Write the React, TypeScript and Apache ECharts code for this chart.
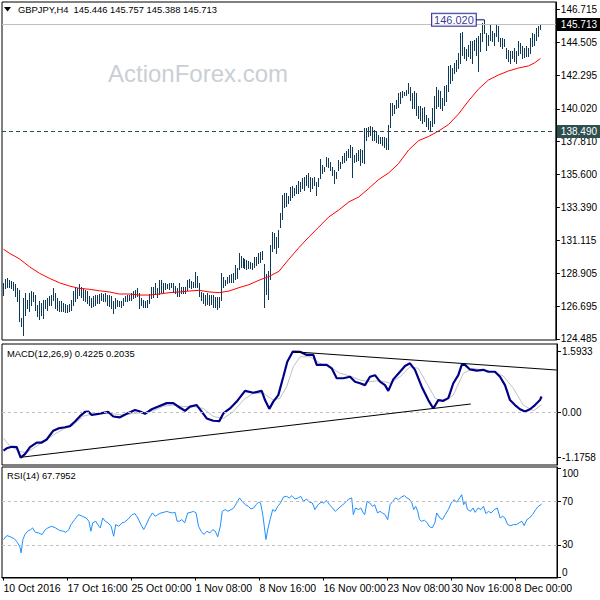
import React, { useEffect, useRef } from "react";
import * as echarts from "echarts";

// ---------- data ----------
const symbolTitle = "GBPJPY,H4";
const lastBarOHLC = [145.446, 145.757, 145.388, 145.713];

const highs = [
  128.26, 128.55, 128.6, 128.48, 128.42, 128.33, 128.19, 127.92, 127.81, 125.9,
  127.25, 127.58, 127.13, 127.58, 127.7, 127.65, 127.47, 126.8, 127.02, 126.91,
  127.13, 127.13, 127.25, 127.36, 127.47, 127.92, 127.58, 127.25, 127.02, 127.02,
  126.91, 126.84, 126.8, 126.84, 127.13, 127.7, 127.92, 127.92, 128.19, 127.97,
  127.92, 127.81, 127.7, 127.36, 127.25, 127.36, 127.47, 127.47, 127.51, 127.58,
  127.51, 127.58, 127.47, 127.47, 127.36, 127.02, 127.25, 127.13, 127.07, 127.02,
  127.25, 127.36, 127.43, 127.47, 127.58, 127.7, 127.81, 127.92, 127.58, 127.23,
  127.12, 127.07, 127.12, 127.52, 128.02, 128.02, 128.24, 127.9, 128.47, 128.47,
  128.24, 128.24, 128.2, 128.24, 128.29, 128.24, 128.06, 127.9, 128.24, 127.97,
  127.97, 128.02, 128.47, 128.51, 128.42, 128.35, 129.03, 128.74, 128.24, 127.68,
  127.57, 127.45, 127.57, 127.45, 127.45, 127.45, 127.34, 127.34, 127.34, 128.92,
  128.65, 128.47, 128.69, 128.8, 128.87, 128.92, 129.48, 129.25, 130.26, 130.09,
  129.93, 129.86, 129.82, 129.77, 129.7, 129.59, 130.04, 130.04, 130.26, 130.38,
  130.45, 129.55, 128.9, 129.1, 130.8, 131.73, 131.62, 131.35, 131.84, 132.99,
  134.2, 134.31, 134.31, 134.13, 134.76, 134.81, 134.65, 134.87, 135.16, 135.1,
  135.32, 135.43, 135.55, 135.66, 135.43, 135.32, 135.43, 135.1, 135.32, 136.6,
  136.22, 136.11, 136.79, 136.67, 136.45, 136.11, 135.89, 135.77, 136.56, 136.45,
  136.83, 137.01, 137.19, 137.28, 137.57, 137.41, 136.9, 137.06, 137.24, 137.28,
  137.24, 138.7, 138.7, 138.81, 138.86, 138.81, 138.59, 138.47, 138.25, 138.13,
  138.09, 138.09, 138.02, 138.92, 140.43, 140.39, 140.27, 140.61, 141.06, 141.17,
  141.24, 141.17, 141.29, 141.74, 141.47, 141.11, 141.2, 141.08, 140.18, 140.18,
  140.07, 140.12, 139.62, 139.4, 139.17, 140.07, 140.86, 141.47, 141.31, 141.2,
  140.75, 141.53, 141.65, 142.88, 142.95, 142.77, 143.11, 143.33, 143.78, 145.13,
  145.2, 144.17, 144.07, 144.35, 144.62, 144.57, 144.68, 144.8, 144.91, 145.13,
  145.81, 146.02, 145.13, 145.02, 145.7, 145.25, 145.13, 145.7, 145.58, 144.8,
  144.8, 144.75, 144.12, 144.01, 143.94, 143.9, 144.12, 143.9, 144.57, 144.46,
  144.23, 144.12, 144.23, 144.12, 144.8, 145.13, 145.07, 145.47, 145.58, 145.757,
];

const lows = [
  127.47, 127.92, 127.96, 127.96, 127.92, 127.81, 127.36, 127.02, 125.67, 125.33,
  124.77, 126.12, 126.57, 126.35, 126.8, 127.02, 126.46, 126.01, 125.85, 126.12,
  125.9, 126.57, 126.46, 126.75, 126.8, 127.13, 126.57, 126.46, 126.35, 126.35,
  126.35, 126.3, 126.3, 126.35, 126.46, 126.8, 127.02, 127.25, 127.47, 127.29,
  127.13, 127.02, 126.91, 126.8, 126.62, 126.68, 126.8, 126.91, 126.91, 127.13,
  127.02, 127.02, 126.8, 126.68, 126.57, 126.23, 126.57, 126.68, 126.68, 126.62,
  126.8, 127.02, 127.02, 127.13, 127.13, 127.25, 127.29, 127.36, 126.57, 126.78,
  126.67, 126.62, 126.67, 126.94, 127.23, 127.34, 127.52, 127.34, 127.52, 127.68,
  127.68, 127.83, 127.9, 127.83, 127.97, 127.68, 127.57, 127.38, 127.38, 127.57,
  127.57, 127.57, 127.79, 127.97, 127.9, 128.02, 127.97, 127.97, 127.38, 127.12,
  126.89, 126.78, 126.85, 126.78, 126.85, 126.67, 126.67, 126.49, 126.67, 127.12,
  128.02, 128.13, 128.24, 128.35, 128.35, 128.35, 128.51, 128.58, 129.19, 129.37,
  129.32, 129.25, 129.19, 129.25, 129.25, 129.19, 129.37, 129.48, 129.59, 129.7,
  129.86, 126.66, 127.5, 127.2, 128.5, 130.4, 130.6, 130.28, 130.71, 132.04,
  132.55, 133.41, 133.46, 133.64, 133.86, 134.04, 134.2, 134.31, 134.31, 134.49,
  134.65, 134.54, 134.87, 134.76, 134.49, 134.65, 134.87, 134.2, 134.8, 135.32,
  135.66, 135.84, 136.16, 136.11, 135.89, 135.55, 134.99, 135.32, 135.89, 136.0,
  136.34, 136.45, 136.56, 136.79, 136.79, 135.39, 136.45, 136.52, 136.56, 136.22,
  136.45, 136.34, 137.91, 138.18, 138.25, 137.91, 137.91, 137.8, 137.69, 137.69,
  137.57, 137.42, 137.28, 137.28, 138.81, 139.6, 139.71, 140.05, 140.16, 140.39,
  140.84, 140.95, 140.95, 141.06, 140.61, 140.05, 140.07, 139.62, 139.4, 139.28,
  139.06, 139.17, 138.83, 138.67, 138.61, 138.83, 139.06, 140.07, 140.18, 140.07,
  139.96, 140.3, 140.52, 141.2, 141.76, 141.98, 142.43, 142.55, 142.77, 143.11,
  143.67, 143.45, 143.33, 143.56, 143.45, 143.11, 144.01, 143.67, 142.55, 143.9,
  144.57, 145.13, 144.01, 144.35, 144.68, 144.57, 144.35, 144.91, 144.57, 144.23,
  144.12, 144.23, 143.45, 143.22, 143.11, 143.45, 143.22, 143.11, 143.67, 143.78,
  143.45, 143.49, 143.56, 143.56, 143.78, 144.23, 144.35, 144.68, 144.91, 145.388,
];

// moving average (red), [bar index, value]
const maPoints = [
  [0, 130.54], [3, 130.27], [8, 129.89], [13, 129.36], [18, 128.92], [23, 128.58],
  [28, 128.28], [33, 128.06], [38, 127.9], [43, 127.84], [48, 127.74], [53, 127.66],
  [58, 127.52], [63, 127.52], [68, 127.45], [73, 127.45], [78, 127.52], [83, 127.61],
  [88, 127.66], [93, 127.72], [98, 127.77], [103, 127.66], [108, 127.61], [113, 127.72],
  [118, 127.95], [123, 128.15], [128, 128.45], [133, 128.7], [138, 129.05], [143, 129.87],
  [148, 130.65], [153, 131.37], [158, 132.04], [163, 132.72], [168, 133.19], [173, 133.73],
  [178, 134.07], [183, 134.64], [188, 135.25], [193, 135.69], [198, 136.33], [203, 137.24],
  [208, 137.87], [213, 138.15], [218, 138.52], [223, 138.96], [228, 139.67], [233, 140.55],
  [238, 141.35], [243, 141.96], [248, 142.3], [253, 142.57], [258, 142.77], [263, 142.91],
  [266, 143.11], [269, 143.41],
];

const lastClose = 145.713;
const levelLine = 138.49;
const swingHigh = 146.02;
const swingHighBar = 241;

const priceTicks = [124.485, 126.695, 128.905, 131.115, 133.39, 135.6, 137.81, 140.02, 142.295, 144.505, 146.715];

// MACD(12,26,9)
const macdLabel = [0.4225, 0.2035];
const macdPoints = [
  [0, -0.99], [1.6, -0.93], [4.1, -0.89], [6.6, -0.9], [8.6, -1.1758], [10.75, -1.08],
  [13.25, -0.9], [16.6, -0.78], [19.1, -0.78], [21.6, -0.7], [24.9, -0.47], [27.4, -0.41],
  [30.75, -0.38], [33.25, -0.35], [35.75, -0.23], [38.25, -0.09], [40.75, 0.02], [42.4, 0.03],
  [44.1, -0.06], [47.4, -0.03], [52.4, 0.02], [54.9, -0.1], [58.25, -0.12], [61.6, -0.03],
  [65.75, 0.07], [68.25, 0.03], [70.75, -0.03], [74.1, 0.09], [77.4, 0.16], [81.6, 0.25],
  [84.9, 0.25], [88.25, 0.13], [90.75, 0.05], [93.25, 0.16], [96.6, 0.2], [99.1, 0.03],
  [101.6, -0.15], [104.9, -0.21], [107.9, -0.22], [109.9, -0.02], [113.25, 0.11], [116.6, 0.29],
  [120.75, 0.57], [124.9, 0.52], [129.1, 0.57], [130.75, 0.33], [132.9, 0.1], [134.9, 0.29],
  [137.4, 0.46], [139.9, 0.94], [141.9, 1.33], [144.6, 1.5933], [148.25, 1.59], [151.6, 1.51],
  [154.9, 1.51], [156.6, 1.25], [161.6, 1.25], [164.1, 1.16], [166.6, 0.9], [169.9, 0.9],
  [173.25, 0.94], [175.75, 0.81], [178.25, 0.77], [180.75, 0.72], [183.25, 0.94], [185.75, 0.98],
  [188.25, 0.81], [190.75, 0.72], [192.4, 0.57], [194.9, 0.87], [198.25, 1.07], [200.75, 1.22],
  [203.25, 1.29], [205.75, 1.12], [209.1, 0.68], [212.4, 0.33], [214.9, 0.11], [217.4, 0.33],
  [219.9, 0.31], [222.4, 0.38], [224.9, 0.77], [227.4, 0.98], [229.1, 1.25], [230.75, 1.25],
  [233.25, 1.13], [236.6, 1.1], [239.9, 1.12], [242.4, 1.07], [245.75, 1.07], [248.25, 0.94],
  [250.75, 0.72], [253.25, 0.33], [255.75, 0.2], [258.25, 0.09], [260.75, 0.03], [263.25, 0.09],
  [265.75, 0.2], [268.25, 0.33], [269, 0.4225],
];
const signalPoints = [
  [0, -0.67], [3.25, -0.87], [8.25, -1.02], [11.6, -1.04], [14.9, -0.93], [19.9, -0.76],
  [24.9, -0.58], [29.9, -0.43], [34.9, -0.32], [39.9, -0.09], [44.9, -0.03], [49.9, -0.02],
  [54.9, -0.03], [59.9, -0.06], [64.9, -0.02], [69.9, 0.0], [74.9, 0.05], [79.9, 0.17],
  [84.9, 0.2], [89.9, 0.16], [94.9, 0.16], [99.9, 0.11], [104.9, -0.1], [109.9, -0.15],
  [114.9, 0.03], [119.9, 0.33], [124.9, 0.51], [129.9, 0.51], [134.9, 0.33], [138.25, 0.38],
  [141.6, 0.68], [144.9, 1.2], [148.25, 1.46], [153.25, 1.46], [158.25, 1.29], [163.25, 1.2],
  [168.25, 1.03], [173.25, 0.96], [178.25, 0.85], [183.25, 0.81], [188.25, 0.84], [193.25, 0.77],
  [198.25, 0.94], [203.25, 1.2], [207.4, 1.16], [211.6, 0.77], [215.75, 0.38], [219.9, 0.29],
  [224.9, 0.46], [229.9, 1.03], [234.9, 1.16], [239.9, 1.1], [244.9, 1.07], [249.9, 0.96],
  [254.9, 0.64], [259.9, 0.2], [264.9, 0.05], [269, 0.2035],
];
const macdSupport = [[8.6, -1.165], [233.6, 0.227]];
const macdResistance = [[144.75, 1.5933], [276.6, 1.115]];
const macdTicks = [-1.1758, 0, 1.5933];

// RSI(14)
const rsiLast = 67.7952;
const rsiPoints = [
  [0, 34.9], [1.7, 38.6], [3.6, 37.3], [5.5, 35.5], [6.9, 32.4], [8.2, 28.2], [8.8, 22.7], [9.7, 34.9],
  [10.7, 39.5], [12, 42.5], [13.6, 44], [14.5, 45.6], [15.9, 41.6], [17.4, 41], [19.3, 39.5], [20.9, 44],
  [22.2, 45.6], [24.1, 47.1], [26, 45.6], [27.9, 43.4], [29.9, 42.5], [31.2, 41.6], [32.7, 44], [33.7, 48.6],
  [35.6, 53.2], [37.5, 57.8], [39.4, 56.3], [41.3, 54.7], [42.7, 51.7], [43.7, 42.5], [44.6, 50.2], [46.1, 51.7],
  [47.7, 47.1], [48.4, 45.6], [49.6, 54.7], [50.9, 51.7], [52.3, 50.2], [53.8, 47.1], [55.1, 37.9], [56.1, 48.6],
  [57.6, 47.1], [59.2, 50.2], [60.5, 50.8], [62.4, 53.8], [64.3, 57.8], [65.7, 58.7], [67.2, 54.7], [68.7, 48.6],
  [70.1, 44], [71, 47.1], [72.9, 54.7], [74.5, 59.3], [75.8, 56.3], [77.2, 57.8], [78.7, 59.3], [80.2, 59.9],
  [81.6, 60.8], [82.9, 59.9], [84.5, 59.3], [85.8, 59.9], [86.8, 51.7], [87.9, 51.7], [89.2, 53.2], [90.6, 50.2],
  [92.1, 59.3], [93.7, 59.9], [95, 60.8], [96.3, 59.3], [97.5, 47.1], [98.8, 42.5], [100.2, 39.5], [101.7, 42.5],
  [103.2, 41], [104.6, 44], [105.9, 42.5], [107.1, 37.3], [108.4, 47.1], [109.4, 60.8], [110.9, 62.4], [112.2, 60.8],
  [113.8, 62.4], [115.1, 63.9], [116.6, 68.5], [118, 73.1], [119.3, 70], [120.9, 66.9], [122.4, 65.4], [123.7, 63],
  [125.1, 63.9], [126.2, 66.9], [127.6, 69.1], [128.5, 68.5], [129.5, 59.3], [130.4, 47.1], [131.2, 34.9], [132.3, 45.6],
  [133.3, 53.2], [134.6, 62.4], [135.8, 60.8], [137.1, 65.4], [138.5, 68.5], [140, 74], [141.5, 74.6], [142.9, 73.1],
  [144.2, 75.2], [145.8, 72.1], [147.3, 73.1], [148.6, 74.6], [150, 70], [151.5, 72.1], [153, 69.1], [154.4, 68.5],
  [155.7, 62.4], [157.3, 66.9], [158.8, 69.1], [160.1, 68.5], [161.5, 70.9], [163, 66.9], [164.5, 63.9], [165.9, 60.8],
  [167.2, 63], [168.7, 65.4], [170.3, 67.9], [171.6, 70], [172.6, 72.1], [174.1, 73.1], [174.9, 57.8], [176, 63.9],
  [177.4, 62.4], [178.7, 63.9], [179.9, 59.3], [180.6, 57.8], [181.8, 70], [183.1, 68.5], [184.5, 65.4], [185.6, 66.9],
  [187, 59.3], [188.3, 60.8], [189.4, 59.3], [190.8, 57.8], [192.1, 53.2], [193.3, 66.9], [194.6, 70], [196, 73.1],
  [197.5, 71.5], [199, 74], [200.4, 75.2], [201.7, 73.1], [202.8, 72.1], [204.2, 68.5], [205.1, 62.4], [206.1, 65.4],
  [207.1, 60.8], [208, 53.2], [209, 51.7], [210.5, 52.6], [211.9, 50.2], [212.8, 47.1], [214.3, 45.6], [215.7, 50.2],
  [216.6, 59.3], [218.2, 54.7], [219.5, 53.2], [220.9, 57.8], [222.4, 62.4], [223.9, 68.5], [225.3, 71.5], [226.6, 69.1],
  [228.1, 73.1], [229.1, 76.1], [230.1, 66.9], [231, 70], [232, 62.4], [233.5, 60.8], [234.8, 63.9], [235.8, 59.9],
  [237.3, 63.9], [238.7, 62.4], [240, 65.4], [241.2, 58.7], [242.5, 60.8], [243.8, 59.3], [245.4, 62.4], [246.9, 63.9],
  [248.3, 54.7], [249.6, 56.3], [250.7, 54.7], [252.1, 48.6], [253.4, 47.7], [255, 48.6], [256.5, 48.6], [257.8, 50.2],
  [259.2, 51.7], [260.3, 47.7], [261.7, 53.2], [263, 54.7], [264.5, 57.8], [266.1, 62.4], [267.4, 65.4], [268.7, 66.9],
  [269, 67.8],
];
const rsiLevels = [70, 30];
const rsiTicks = [0, 30, 70, 100];

// time axis
const timeTickBars = [0, 32, 64, 96, 128, 160, 192, 224, 256];
const timeLabels = [
  "10 Oct 2016", "17 Oct 16:00", "25 Oct 00:00", "1 Nov 08:00", "8 Nov 16:00",
  "16 Nov 00:00", "23 Nov 08:00", "30 Nov 16:00", "8 Dec 00:00",
];

// ---------- styling ----------
const FONT = "Liberation Sans, Arial, sans-serif";
const BAR_COLOR = "#0f3a57";
const X_MIN = -0.75;
const X_MAX = 276.75;
const LABEL_GAP_BARS = 4.1;

export default function App() {
  const ref = useRef<HTMLDivElement>(null);

  useEffect(() => {
    if (!ref.current) return;
    const chart = echarts.init(ref.current, null, { renderer: "svg" });

    const grids = [
      { left: 2, top: 2, width: 555, height: 338 },
      { left: 2, top: 344, width: 555, height: 121 },
      { left: 2, top: 467, width: 555, height: 111 },
    ].map((g) => ({ ...g, show: true, borderColor: "#000", borderWidth: 1, backgroundColor: "transparent" }));

    const xAxes = [0, 1, 2].map((g) => ({
      type: "value",
      gridIndex: g,
      min: X_MIN,
      max: X_MAX,
      splitLine: { show: false },
      axisLine: { show: g === 2, lineStyle: { color: "#000", width: 1 } },
      axisTick:
        g === 2
          ? { show: true, customValues: timeTickBars, length: 3, lineStyle: { color: "#000" } }
          : { show: false },
      axisLabel:
        g === 2
          ? {
              show: true,
              customValues: timeTickBars,
              formatter: (v: number) => timeLabels[timeTickBars.indexOf(Math.round(v))] ?? "",
              align: "left",
              color: "#000",
              fontSize: 10.5,
              fontFamily: FONT,
              margin: 4,
            }
          : { show: false },
    }));

    const yCommon = {
      type: "value",
      position: "right",
      splitLine: { show: false },
      axisLine: { show: true, onZero: false, lineStyle: { color: "#000", width: 1 } },
    };

    const yAxes = [
      {
        ...yCommon,
        gridIndex: 0,
        min: 124.417,
        max: 147.224,
        axisTick: { show: true, customValues: priceTicks, length: 4, lineStyle: { color: "#000" } },
        axisLabel: {
          customValues: priceTicks,
          formatter: (v: number) => v.toFixed(3),
          color: "#000",
          fontSize: 10,
          fontFamily: FONT,
          margin: 5,
        },
      },
      {
        ...yCommon,
        gridIndex: 1,
        min: -1.3662,
        max: 1.7947,
        axisTick: { show: true, customValues: macdTicks, length: 4, lineStyle: { color: "#000" } },
        axisLabel: {
          customValues: macdTicks,
          formatter: (v: number) => (v === 0 ? "0.00" : v.toFixed(4)),
          color: "#000",
          fontSize: 10,
          fontFamily: FONT,
          margin: 5,
        },
      },
      {
        ...yCommon,
        gridIndex: 2,
        min: -0.4,
        max: 101.5,
        axisTick: { show: true, customValues: rsiTicks, length: 4, lineStyle: { color: "#000" } },
        axisLabel: {
          customValues: rsiTicks,
          formatter: (v: number) => String(v),
          color: "#000",
          fontSize: 10,
          fontFamily: FONT,
          margin: 5,
          verticalAlignMaxLabel: "top",
          verticalAlignMinLabel: "bottom",
        },
      },
    ];

    const barData = highs.map((h, i) => [i, h, lows[i]]);

    const option: any = {
      animation: false,
      backgroundColor: "#fff",
      textStyle: { fontFamily: FONT },
      grid: grids,
      xAxis: xAxes,
      yAxis: yAxes,
      graphic: [
        {
          type: "text",
          z: 1,
          left: 108,
          top: 61,
          style: { text: "ActionForex.com", fill: "#c9cfd5", font: `24px ${FONT}` },
        },
        { type: "polygon", shape: { points: [[4, 7], [11, 7], [7.5, 11.5]] }, style: { fill: "#000" } },
        {
          type: "text",
          left: 18,
          top: 5,
          style: {
            text: `${symbolTitle}  ${lastBarOHLC.map((v) => v.toFixed(3)).join(" ")}`,
            fill: "#000",
            font: `9.4px ${FONT}`,
          },
        },
        {
          type: "text",
          left: 7,
          top: 349,
          style: {
            text: `MACD(12,26,9) ${macdLabel[0].toFixed(4)} ${macdLabel[1].toFixed(4)}`,
            fill: "#000",
            font: `9.4px ${FONT}`,
          },
        },
        {
          type: "text",
          left: 7,
          top: 471,
          style: { text: `RSI(14) ${rsiLast.toFixed(4)}`, fill: "#000", font: `9.4px ${FONT}` },
        },
      ],
      series: [
        {
          name: "levels",
          type: "line",
          xAxisIndex: 0,
          yAxisIndex: 0,
          data: [],
          silent: true,
          z: 2,
          markLine: {
            symbol: "none",
            silent: true,
            animation: false,
            data: [
              {
                yAxis: lastClose,
                lineStyle: { color: "#c0c0c0", type: "solid", width: 1 },
                label: {
                  show: true,
                  position: "end",
                  distance: 1,
                  formatter: lastClose.toFixed(3),
                  color: "#fff",
                  backgroundColor: "#000",
                  padding: [2, 4, 1, 4],
                  fontSize: 10,
                  fontFamily: FONT,
                },
              },
              {
                yAxis: levelLine,
                lineStyle: { color: "#2f4f4f", type: [4, 3], width: 1 },
                label: {
                  show: true,
                  position: "end",
                  distance: 1,
                  formatter: levelLine.toFixed(3),
                  color: "#fff",
                  backgroundColor: "#2f4f4f",
                  padding: [2, 4, 1, 4],
                  fontSize: 10,
                  fontFamily: FONT,
                },
              },
            ],
          },
        },
        {
          name: "bars",
          type: "custom",
          xAxisIndex: 0,
          yAxisIndex: 0,
          z: 3,
          encode: { x: 0, y: [1, 2] },
          data: barData,
          renderItem: (_p: any, api: any) => {
            const x = api.value(0);
            const top = api.coord([x, api.value(1)]);
            const bot = api.coord([x, api.value(2)]);
            const px = Math.round(top[0] - 0.5) + 0.5;
            return {
              type: "line",
              shape: { x1: px, y1: Math.round(top[1]), x2: px, y2: Math.round(bot[1]) + 1 },
              style: { stroke: BAR_COLOR, lineWidth: 1 },
            };
          },
        },
        {
          name: "MA",
          type: "line",
          xAxisIndex: 0,
          yAxisIndex: 0,
          z: 4,
          data: maPoints,
          showSymbol: false,
          symbol: "none",
          lineStyle: { color: "#ff0000", width: 1 },
        },
        {
          name: "highConnector",
          type: "line",
          xAxisIndex: 0,
          yAxisIndex: 0,
          z: 5,
          data: [
            [swingHighBar - LABEL_GAP_BARS, swingHigh],
            [swingHighBar, swingHigh],
          ],
          symbol: "none",
          lineStyle: { color: "#000080", width: 1 },
        },
        {
          name: "highLabel",
          type: "scatter",
          xAxisIndex: 0,
          yAxisIndex: 0,
          z: 6,
          data: [[swingHighBar - LABEL_GAP_BARS, swingHigh]],
          symbolSize: 1,
          itemStyle: { color: "rgba(0,0,0,0)" },
          labelLayout: { hideOverlap: false },
          label: {
            show: true,
            position: "left",
            distance: 0,
            formatter: swingHigh.toFixed(3),
            color: "#000080",
            backgroundColor: "#fff",
            borderColor: "#000080",
            borderWidth: 1,
            padding: [1, 2, 0, 2],
            fontSize: 11,
            fontFamily: FONT,
          },
        },
        {
          name: "signal",
          type: "line",
          xAxisIndex: 1,
          yAxisIndex: 1,
          data: signalPoints,
          symbol: "none",
          z: 3,
          lineStyle: { color: "#c0c0c0", width: 1 },
          markLine: {
            symbol: "none",
            silent: true,
            label: { show: false },
            lineStyle: { color: "#c0c0c0", type: [3, 3], width: 1 },
            data: [{ yAxis: 0 }],
          },
        },
        {
          name: "macd",
          type: "line",
          xAxisIndex: 1,
          yAxisIndex: 1,
          data: macdPoints,
          symbol: "none",
          z: 4,
          lineStyle: { color: "#000088", width: 2.2 },
        },
        {
          name: "support",
          type: "line",
          xAxisIndex: 1,
          yAxisIndex: 1,
          data: macdSupport,
          symbol: "none",
          z: 5,
          lineStyle: { color: "#000", width: 1 },
        },
        {
          name: "resistance",
          type: "line",
          xAxisIndex: 1,
          yAxisIndex: 1,
          data: macdResistance,
          symbol: "none",
          z: 5,
          lineStyle: { color: "#000", width: 1 },
        },
        {
          name: "rsi",
          type: "line",
          xAxisIndex: 2,
          yAxisIndex: 2,
          data: rsiPoints,
          symbol: "none",
          z: 4,
          lineStyle: { color: "#1e90ff", width: 1 },
          markLine: {
            symbol: "none",
            silent: true,
            label: { show: false },
            lineStyle: { color: "#c0c0c0", type: [3, 3], width: 1 },
            data: rsiLevels.map((v) => ({ yAxis: v })),
          },
        },
      ],
    };

    chart.setOption(option);
    return () => chart.dispose();
  }, []);

  return (
    <div
      ref={ref}
      style={{ position: "fixed", left: 0, top: 0, width: 600, height: 600, background: "#fff" }}
    />
  );
}
